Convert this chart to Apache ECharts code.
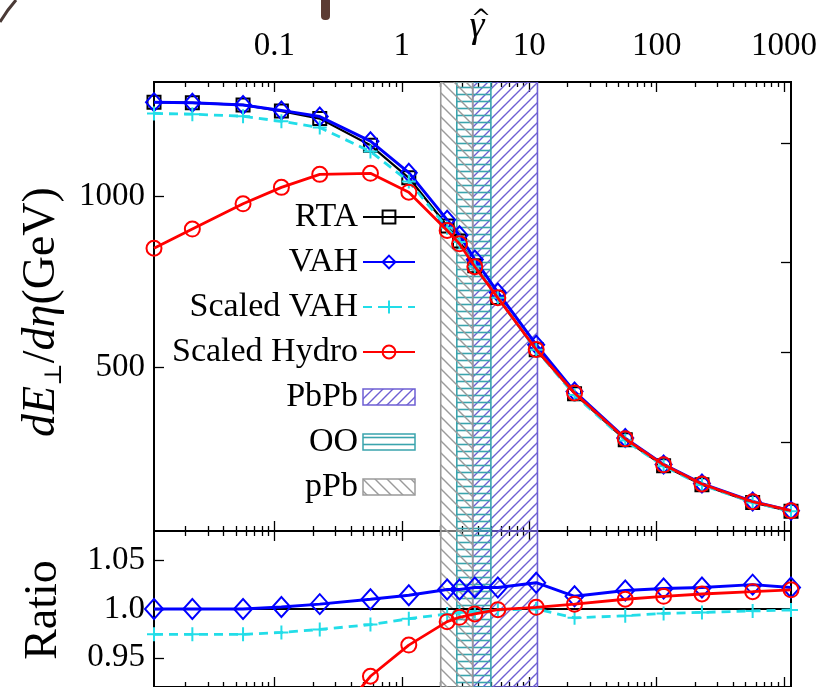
<!DOCTYPE html>
<html><head><meta charset="utf-8">
<script src="https://cdn.jsdelivr.net/npm/echarts@6/dist/echarts.min.js"></script>
<style>html,body{margin:0;padding:0;background:#fff}#c{width:830px;height:687px}</style>
</head><body><div id="c"></div><script>
// ---------- data ----------
const gammaHat = [0.01134, 0.02268, 0.0567, 0.1134, 0.2268, 0.567, 1.134, 2.268, 2.835, 3.74, 5.67, 11.34, 22.68, 56.7, 113.4, 226.8, 567, 1134];
const rta         = [1276, 1274, 1268, 1250, 1228, 1150, 1055, 914, 870, 798, 705, 552, 424, 289, 213, 158, 106, 80];
const vah         = [1276, 1274, 1268, 1252, 1234, 1162, 1070, 932, 887, 816, 720, 567, 430, 294, 217, 161, 109, 82];
const scaledVah   = [1243, 1241, 1235, 1220, 1202, 1132, 1044, 909, 867, 796, 704, 552, 420, 287, 212, 157, 106, 80];
const scaledHydro = [849, 905, 979, 1027, 1065, 1068, 1013, 901, 862, 795, 704, 553, 426, 292, 216, 160, 108, 82];
const ratioRta         = [1, 1, 1, 1, 1, 1, 1, 1, 1, 1, 1, 1, 1, 1, 1, 1, 1, 1];
const ratioVah         = [1.000, 1.000, 1.000, 1.002, 1.005, 1.010, 1.014, 1.020, 1.020, 1.022, 1.022, 1.027, 1.013, 1.019, 1.021, 1.022, 1.025, 1.022];
const ratioScaledVah   = [0.974, 0.974, 0.974, 0.976, 0.979, 0.984, 0.990, 0.995, 0.9965, 0.9975, 0.999, 1.000, 0.991, 0.993, 0.9955, 0.9965, 0.998, 0.999];
const ratioScaledHydro = [0.665, 0.709, 0.771, 0.822, 0.868, 0.931, 0.963, 0.987, 0.9915, 0.995, 0.9993, 1.0017, 1.005, 1.010, 1.013, 1.0154, 1.0178, 1.0197];
const bandNames  = ['PbPb', 'OO', 'pPb'];
const bandRanges = [[3.6, 11.6], [2.7, 5.0], [2.02, 3.6]];
const xTickValues = [0.1, 1, 10, 100, 1000];
const xTickLabels = ['0.1', '1', '10', '100', '1000'];
const yTickValues = [500, 1000];
const yTickLabels = ['500', '1000'];
const yRightTickValues = [283, 546, 809, 1157];
const ratioTickValues = [0.95, 1.0, 1.05];
const ratioTickLabels = ['0.95', '1.0', '1.05'];

// ---------- styling ----------
const FONT = 'Liberation Serif';
const X_MIN = 0.01134, X_MAX = 1134;
const minorTicks = [];
[0.01, 0.1, 1, 10, 100].forEach(d => { for (let k = 2; k <= 9; k++) minorTicks.push(+(d * k).toPrecision(6)); });

function hatch(kind, color, size, lw) {
  const c = document.createElement('canvas'); c.width = size; c.height = size;
  const g = c.getContext('2d'); g.strokeStyle = color; g.lineWidth = lw;
  g.beginPath();
  if (kind === 'h') { g.moveTo(0, size / 2); g.lineTo(size, size / 2); }
  else if (kind === '/') {
    g.moveTo(-2, size + 2); g.lineTo(size + 2, -2);
    g.moveTo(-2, 2); g.lineTo(2, -2);
    g.moveTo(size - 2, size + 2); g.lineTo(size + 2, size - 2);
  } else {
    g.moveTo(-2, -2); g.lineTo(size + 2, size + 2);
    g.moveTo(size - 2, -2); g.lineTo(size + 2, 2);
    g.moveTo(-2, size - 2); g.lineTo(2, size + 2);
  }
  g.stroke();
  return { image: c, repeat: 'repeat' };
}
const bandColors = ['#6d5fd3', '#3aa4ad', '#9a9a9a'];
const bandPatterns = [hatch('/', bandColors[0], 10, 1.4), hatch('h', bandColors[1], 7, 1.6), hatch('\\', bandColors[2], 12, 1.4)];

function lookup(v, vals, labs) {
  for (let i = 0; i < vals.length; i++) if (Math.abs(v - vals[i]) <= 1e-6 * Math.max(1, Math.abs(vals[i]))) return labs[i];
  return '';
}

function xAx(grid, pos, ticks, len, withLabels) {
  return {
    type: 'log', logBase: 10, gridIndex: grid, position: pos, min: X_MIN, max: X_MAX,
    axisLine: { show: false }, splitLine: { show: false },
    axisTick: { show: true, inside: true, length: len, customValues: ticks, lineStyle: { color: '#000', width: 1.3 } },
    axisLabel: withLabels ? {
      show: true, customValues: xTickValues, margin: 19,
      formatter: v => lookup(v, xTickValues, xTickLabels),
      fontFamily: FONT, fontSize: 33, color: '#000'
    } : { show: false }
  };
}

const pairs = arr => gammaHat.map((x, i) => [x, arr[i]]);
const hollow = c => ({ color: 'rgba(255,255,255,0)', borderColor: c, borderWidth: 2 });
const PLUS = 'path://M5,0L5,10M0,5L10,5';

function lineSeries(name, arr, grid, opts) {
  return Object.assign({
    type: 'line', name: name, data: pairs(arr),
    xAxisIndex: grid === 0 ? 0 : 4, yAxisIndex: grid === 0 ? 0 : 2,
    showAllSymbol: true, clip: true, emphasis: { disabled: true }, animation: false
  }, opts);
}

function bandSeries(i, grid) {
  return {
    type: 'custom', name: bandNames[i], data: [bandRanges[i]],
    xAxisIndex: grid === 0 ? 0 : 4, yAxisIndex: grid === 0 ? 0 : 2,
    encode: { x: [0, 1] }, z: 1, clip: true, silent: true,
    itemStyle: { color: bandColors[i] },
    renderItem: function (params, api) {
      const cs = params.coordSys;
      const yRef = grid === 0 ? 500 : 1.0;
      const x0 = api.coord([api.value(0), yRef])[0];
      const x1 = api.coord([api.value(1), yRef])[0];
      return {
        type: 'rect',
        shape: { x: x0, y: cs.y, width: x1 - x0, height: cs.height },
        style: { fill: bandPatterns[i], stroke: bandColors[i], lineWidth: 1.6 }
      };
    }
  };
}

const series = [
  bandSeries(0, 0), bandSeries(1, 0), bandSeries(2, 0),
  lineSeries('RTA', rta, 0, { z: 3, symbol: 'rect', symbolSize: 13, lineStyle: { color: '#000', width: 2.2 }, itemStyle: hollow('#000') }),
  lineSeries('VAH', vah, 0, { z: 4, symbol: 'diamond', symbolSize: [16, 18], lineStyle: { color: '#0000ff', width: 3 }, itemStyle: hollow('#0000ff') }),
  lineSeries('Scaled VAH', scaledVah, 0, { z: 5, symbol: PLUS, symbolSize: 14, lineStyle: { color: '#22dde8', width: 2.8, type: [9, 6] }, itemStyle: hollow('#22dde8') }),
  lineSeries('Scaled Hydro', scaledHydro, 0, { z: 6, symbol: 'circle', symbolSize: 15, lineStyle: { color: '#ff0000', width: 2.8 }, itemStyle: hollow('#ff0000') }),
  bandSeries(0, 1), bandSeries(1, 1), bandSeries(2, 1),
  lineSeries('RTA', ratioRta, 1, { z: 3, symbol: 'none', lineStyle: { color: '#000', width: 2.2 }, itemStyle: hollow('#000') }),
  lineSeries('VAH', ratioVah, 1, { z: 4, symbol: 'diamond', symbolSize: [18, 20], lineStyle: { color: '#0000ff', width: 3 }, itemStyle: hollow('#0000ff') }),
  lineSeries('Scaled VAH', ratioScaledVah, 1, { z: 5, symbol: PLUS, symbolSize: 14, lineStyle: { color: '#22dde8', width: 2.8, type: [9, 6] }, itemStyle: hollow('#22dde8') }),
  lineSeries('Scaled Hydro', ratioScaledHydro, 1, { z: 6, symbol: 'circle', symbolSize: 15, lineStyle: { color: '#ff0000', width: 2.8 }, itemStyle: hollow('#ff0000') })
];

const option = {
  animation: false,
  backgroundColor: '#fff',
  grid: [
    { left: 154, top: 82, width: 637, height: 449, show: true, borderColor: '#000', borderWidth: 2, backgroundColor: 'transparent', containLabel: false },
    { left: 154, top: 531, width: 637, height: 156, show: true, borderColor: '#000', borderWidth: 2, backgroundColor: 'transparent', containLabel: false }
  ],
  xAxis: [
    xAx(0, 'bottom', xTickValues, 10, false),
    xAx(0, 'top', xTickValues, 10, true),
    xAx(0, 'top', minorTicks, 5, false),
    xAx(0, 'bottom', minorTicks, 5, false),
    xAx(1, 'top', xTickValues, 10, false),
    xAx(1, 'top', minorTicks, 5, false),
    xAx(1, 'bottom', xTickValues, 10, false),
    xAx(1, 'bottom', minorTicks, 5, false)
  ],
  yAxis: [
    { type: 'value', gridIndex: 0, position: 'left', min: 22.5, max: 1335,
      axisLine: { show: false }, splitLine: { show: false },
      axisTick: { show: true, inside: true, length: 10, customValues: yTickValues, lineStyle: { color: '#000', width: 1.3 } },
      axisLabel: { show: true, customValues: yTickValues, margin: 9, formatter: v => lookup(v, yTickValues, yTickLabels), fontFamily: FONT, fontSize: 33, color: '#000' } },
    { type: 'value', gridIndex: 0, position: 'right', min: 22.5, max: 1335,
      axisLine: { show: false }, splitLine: { show: false },
      axisTick: { show: true, inside: true, length: 10, customValues: yRightTickValues, lineStyle: { color: '#000', width: 1.3 } },
      axisLabel: { show: false } },
    { type: 'value', gridIndex: 1, position: 'left', min: 0.92, max: 1.08,
      axisLine: { show: false }, splitLine: { show: false },
      axisTick: { show: true, inside: true, length: 10, customValues: ratioTickValues, lineStyle: { color: '#000', width: 1.3 } },
      axisLabel: { show: true, customValues: ratioTickValues, margin: 9, formatter: v => lookup(v, ratioTickValues, ratioTickLabels), fontFamily: FONT, fontSize: 33, color: '#000' } }
  ],
  legend: {
    orient: 'vertical', align: 'right', right: 414, top: 198, padding: 0,
    itemWidth: 52, itemHeight: 16, itemGap: 7, selectedMode: false,
    textStyle: { fontFamily: FONT, fontSize: 34, color: '#000', lineHeight: 38 },
    data: [
      { name: 'RTA' }, { name: 'VAH' }, { name: 'Scaled VAH' }, { name: 'Scaled Hydro' },
      { name: 'PbPb', icon: 'rect', itemStyle: { color: bandPatterns[0], borderColor: bandColors[0], borderWidth: 1.5 } },
      { name: 'OO', icon: 'rect', itemStyle: { color: bandPatterns[1], borderColor: bandColors[1], borderWidth: 1.5 } },
      { name: 'pPb', icon: 'rect', itemStyle: { color: bandPatterns[2], borderColor: bandColors[2], borderWidth: 1.5 } }
    ]
  },
  graphic: [
    { type: 'text', x: 477, y: 27, style: { text: 'γ', font: 'italic 38px "Liberation Serif"', fill: '#000', align: 'center', verticalAlign: 'middle' } },
    { type: 'text', x: 481, y: 20, style: { text: '^', font: '24px "DejaVu Serif"', fill: '#000', align: 'center', verticalAlign: 'middle' } },
    { type: 'text', x: 42, y: 312, rotation: Math.PI / 2,
      style: {
        text: '{i|dE}{s|⊥}{n|/}{i|dη}{n|(GeV)}', align: 'center', verticalAlign: 'middle', fill: '#000',
        rich: {
          i: { fontFamily: FONT, fontStyle: 'italic', fontSize: 46, lineHeight: 50 },
          n: { fontFamily: FONT, fontSize: 46, lineHeight: 50 },
          s: { fontFamily: 'DejaVu Serif', fontSize: 24, lineHeight: 24, verticalAlign: 'bottom' }
        }
      } },
    { type: 'text', x: 44, y: 610, rotation: Math.PI / 2,
      style: { text: 'Ratio', font: '46px "Liberation Serif"', fill: '#000', align: 'center', verticalAlign: 'middle' } },
    { type: 'rect', shape: { x: 321, y: -4, width: 9, height: 24, r: 4 }, style: { fill: '#5b3b33' } },
    { type: 'polyline', shape: { points: [[0, 22], [8, 10], [16, 0]] }, style: { stroke: '#4a3a36', lineWidth: 3, fill: null } }
  ],
  series: series
};
const chart = echarts.init(document.getElementById('c'));
chart.setOption(option);
</script></body></html>
